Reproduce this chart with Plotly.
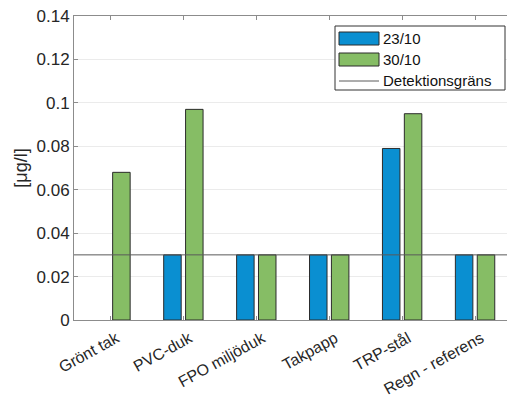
import plotly.graph_objects as go

categories = ["Grönt tak", "PVC-duk", "FPO miljöduk", "Takpapp", "TRP-stål", "Regn - referens"]
series_23_10 = [None, 0.03, 0.03, 0.03, 0.079, 0.03]
series_30_10 = [0.068, 0.097, 0.03, 0.03, 0.095, 0.03]
detection_limit = 0.03
series_names = ["23/10", "30/10", "Detektionsgräns"]
y_ticks = [0, 0.02, 0.04, 0.06, 0.08, 0.1, 0.12, 0.14]
y_tick_labels = ["0", "0.02", "0.04", "0.06", "0.08", "0.1", "0.12", "0.14"]

xpos = list(range(len(categories)))
x_range = [-0.5, 5.438]

font_family = "Liberation Sans, Arial, sans-serif"
txt = "#262626"
blue = "#0a8fd1"
green = "#86bd65"
edge = "#2b2b2b"
det_color = "#5a5a5a"

W, H = 507, 403
ML, MR, MT, MB = 74, 0, 16, 83
PW, PH = W - ML - MR, H - MT - MB


def px_x(p):
    return (p - ML) / PW


def px_y(p):
    return (H - MB - p) / PH


fig = go.Figure()
fig.add_trace(go.Bar(
    x=xpos, y=series_23_10, name=series_names[0],
    marker=dict(color=blue, line=dict(color=edge, width=1)),
    width=0.24, offset=-0.27,
))
fig.add_trace(go.Bar(
    x=xpos, y=series_30_10, name=series_names[1],
    marker=dict(color=green, line=dict(color=edge, width=1)),
    width=0.24, offset=0.03,
))
fig.add_trace(go.Scatter(
    x=[-0.5, 5.5], y=[detection_limit, detection_limit], name=series_names[2],
    mode="lines", line=dict(color=det_color, width=1), cliponaxis=True,
))

# manual legend (MATLAB style)
shapes = [
    dict(type="rect", xref="paper", yref="paper", x0=px_x(335), x1=px_x(505),
         y0=px_y(90), y1=px_y(26), line=dict(color="#333333", width=1),
         fillcolor="white", layer="above"),
    dict(type="rect", xref="paper", yref="paper", x0=px_x(339), x1=px_x(379),
         y0=px_y(45), y1=px_y(32), line=dict(color=edge, width=1),
         fillcolor=blue, layer="above"),
    dict(type="rect", xref="paper", yref="paper", x0=px_x(339), x1=px_x(379),
         y0=px_y(66), y1=px_y(53), line=dict(color=edge, width=1),
         fillcolor=green, layer="above"),
    dict(type="line", xref="paper", yref="paper", x0=px_x(339), x1=px_x(379),
         y0=px_y(81), y1=px_y(81), line=dict(color=det_color, width=1), layer="above"),
]
annotations = []
for name, yc in zip(series_names, [38.5, 59.5, 80.5]):
    annotations.append(dict(
        text=name, xref="paper", yref="paper", x=px_x(381), y=px_y(yc),
        xanchor="left", yanchor="middle", showarrow=False,
        font=dict(size=15, color="#111111", family=font_family),
    ))

fig.update_layout(
    width=W, height=H,
    margin=dict(l=ML, r=MR, t=MT, b=MB),
    paper_bgcolor="white", plot_bgcolor="white",
    font=dict(family=font_family, size=17, color=txt),
    showlegend=False,
    shapes=shapes,
    annotations=annotations,
    xaxis=dict(
        range=x_range, tickmode="array", tickvals=xpos, ticktext=categories,
        tickangle=-29, showgrid=False, zeroline=False, automargin=False,
        showline=True, linecolor="#8c8c8c", linewidth=1, mirror="ticks",
        ticks="inside", ticklen=4, tickcolor="#8c8c8c",
        tickfont=dict(size=16, color=txt),
        ticklabelshift=6, ticklabelstandoff=2,
    ),
    yaxis=dict(
        range=[0, 0.14], tickmode="array", tickvals=y_ticks, ticktext=y_tick_labels,
        showgrid=True, gridcolor="#ebebeb", gridwidth=1, zeroline=False, automargin=False,
        showline=True, linecolor="#8c8c8c", linewidth=1, mirror=False,
        ticks="inside", ticklen=4, tickcolor="#8c8c8c",
        tickfont=dict(size=17, color=txt),
        title=dict(text="[μg/l]", font=dict(size=18, color=txt), standoff=4),
    ),
)

fig.write_html(
    "out.html",
    config={"displayModeBar": False},
    post_script="document.body.style.margin='0';document.body.style.overflow='hidden';",
)
